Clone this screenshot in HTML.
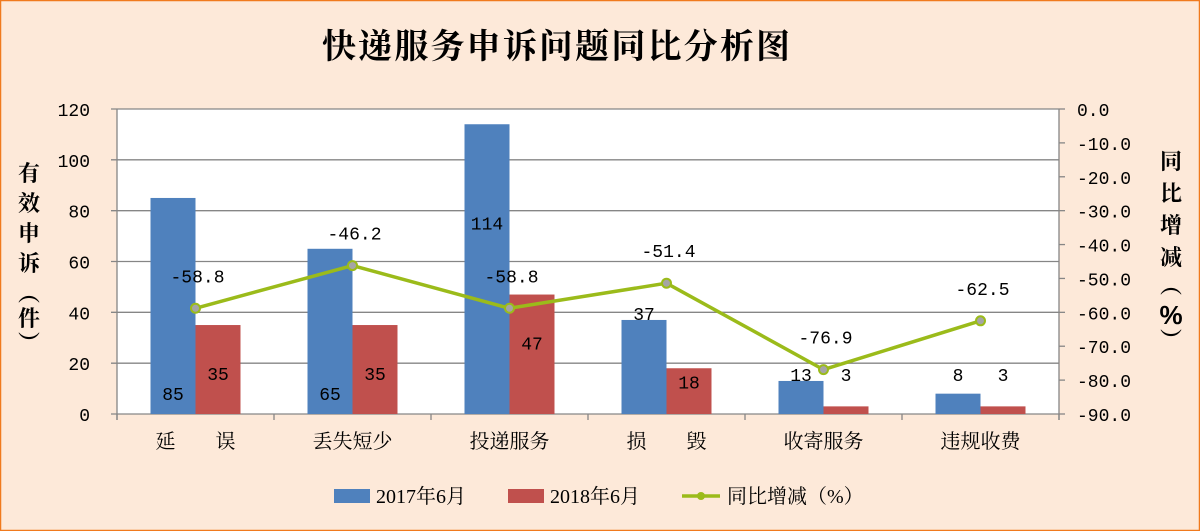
<!DOCTYPE html>
<html><head><meta charset="utf-8"><style>
html,body{margin:0;padding:0;background:#FDE9D9}
svg{display:block;font-family:"Liberation Serif","Noto Serif CJK SC",serif}
.num{font-family:"Liberation Mono","DejaVu Sans Mono",monospace}
</style></head><body>
<svg id="chart" width="1200" height="531" viewBox="0 0 1200 531" xmlns="http://www.w3.org/2000/svg">
<rect x="0.5" y="0.5" width="1199" height="530" fill="#FDE9D9" stroke="#F07A1E" stroke-width="1.5"/>
<text x="322" y="58" font-size="34" font-weight="bold" textLength="468" font-family="'Noto Serif CJK SC',serif">快递服务申诉问题同比分析图</text>
<rect x="117" y="109" width="942" height="305" fill="#fff"/>
<g id="grid"></g><g id="bars"></g><g id="line"></g><g id="labels"></g>
<g font-size="22" font-weight="bold" font-family="'Noto Serif CJK SC',serif" text-anchor="middle">
<text x="29" y="181">有</text><text x="29" y="211">效</text><text x="29" y="241">申</text><text x="29" y="271">诉</text><text x="29" y="301">︵</text><text x="29" y="326">件</text><text x="29" y="351">︶</text>
</g>
<g font-size="22" font-weight="bold" font-family="'Noto Serif CJK SC',serif" text-anchor="middle">
<text x="1171" y="169">同</text><text x="1171" y="201">比</text><text x="1171" y="233">增</text><text x="1171" y="265">减</text><text x="1171" y="293">︵</text><text x="1171" y="324" font-size="26" font-family="'Liberation Sans',sans-serif">%</text><text x="1171" y="348">︶</text>
</g>
<g font-size="20">
<rect x="334" y="489" width="36" height="14" fill="#4F81BD"/>
<text x="376" y="503">2017年6月</text>
<rect x="508" y="489" width="36" height="14" fill="#C0504D"/>
<text x="550" y="503">2018年6月</text>
<line x1="682" y1="496" x2="720" y2="496" stroke="#9BBB1A" stroke-width="3.5"/>
<circle cx="701" cy="496" r="4" fill="#9BBB1A"/>
<text x="727" y="503">同比增减（%）</text>
</g>
</svg>
<script>
const categories=["延　　误","丢失短少","投递服务","损　　毁","收寄服务","违规收费"];
const v2017=[85,65,114,37,13,8];
const v2018=[35,35,47,18,3,3];
const yoy=[-58.8,-46.2,-58.8,-51.4,-76.9,-62.5];
const leftTicks=[0,20,40,60,80,100,120];
const rightTicks=[0,-10,-20,-30,-40,-50,-60,-70,-80,-90];
const X0=117,X1=1059,Y0=414,Y1=109,bw=45;
const cw=(X1-X0)/categories.length;
const yL=v=>Y0-(v/120)*(Y0-Y1);
const yR=v=>Y1+(-v/90)*(Y0-Y1);
const cx=i=>X0+cw*(i+0.5);
const NS="http://www.w3.org/2000/svg";
function mk(tag,attrs,parent,txt){const e=document.createElementNS(NS,tag);for(const k in attrs)e.setAttribute(k,attrs[k]);if(txt!==undefined)e.textContent=txt;parent.appendChild(e);return e;}
const grid=document.getElementById('grid'),bars=document.getElementById('bars'),line=document.getElementById('line'),labels=document.getElementById('labels');
leftTicks.forEach(t=>{const y=yL(t);
 const g=mk('line',{x1:X0-6,x2:X1,y1:y,y2:y,stroke:'#868686','stroke-width':1.3},grid);
 
 
 const tx=mk('text',{x:X0-27,y:y+7,'font-size':18,'text-anchor':'end','class':'num'},grid,String(t));
 
 });
rightTicks.forEach(t=>{const y=yR(t);
 mk('line',{x1:X1,x2:X1+6,y1:y,y2:y,stroke:'#868686','stroke-width':1.3},grid);
 const tx=mk('text',{x:X1+18,y:y+7,'font-size':18,'class':'num'},grid,t.toFixed(1));
 
 });
mk('line',{x1:X0,x2:X0,y1:Y1,y2:Y0+6,stroke:'#868686','stroke-width':1.3},grid);
mk('line',{x1:X1,x2:X1,y1:Y1,y2:Y0+6,stroke:'#868686','stroke-width':1.3},grid);
for(let i=0;i<=categories.length;i++)mk('line',{x1:X0+cw*i,x2:X0+cw*i,y1:Y0,y2:Y0+6,stroke:'#868686','stroke-width':1.3},grid);
categories.forEach((c,i)=>{
 const t=mk('text',{x:cx(i),y:448,'font-size':20,'text-anchor':'middle','font-family':"'Noto Serif CJK SC',serif"},labels,c);
 
 
 const top1=yL(v2017[i]),top2=yL(v2018[i]);
 const b1=mk('rect',{x:cx(i)-bw,y:top1,width:bw,height:Y0-top1,fill:'#4F81BD'},bars);
 
 
 const b2=mk('rect',{x:cx(i),y:top2,width:bw,height:Y0-top2,fill:'#C0504D'},bars);
 
 
 const ly1=v2017[i]>=100?top1+105:(v2017[i]>=50?Y0-14:Math.min(top1,Y0-33));
 const ly2=v2018[i]>=30?top2+55:(v2018[i]>=10?top2+20:Y0-33);
 const l1=mk('text',{x:cx(i)-bw/2,y:ly1,'font-size':18,'text-anchor':'middle','class':'num'},labels,String(v2017[i]));
 
 
 const l2=mk('text',{x:cx(i)+bw/2,y:ly2,'font-size':18,'text-anchor':'middle','class':'num'},labels,String(v2018[i]));
 
 
});
const pts=yoy.map((v,i)=>cx(i)+','+yR(v)).join(' ');
const pl=mk('polyline',{points:pts,fill:'none',stroke:'#9BBB1A','stroke-width':3.5},line);


yoy.forEach((v,i)=>{
 const c=mk('circle',{cx:cx(i),cy:yR(v),r:4.5,fill:'#A5A5A5',stroke:'#9BBB1A','stroke-width':2},line);
 
 
 const t=mk('text',{x:cx(i)+2,y:yR(v)-26,'font-size':18,'text-anchor':'middle','class':'num'},labels,v.toFixed(1));
 
 
});
</script>
</body></html>
